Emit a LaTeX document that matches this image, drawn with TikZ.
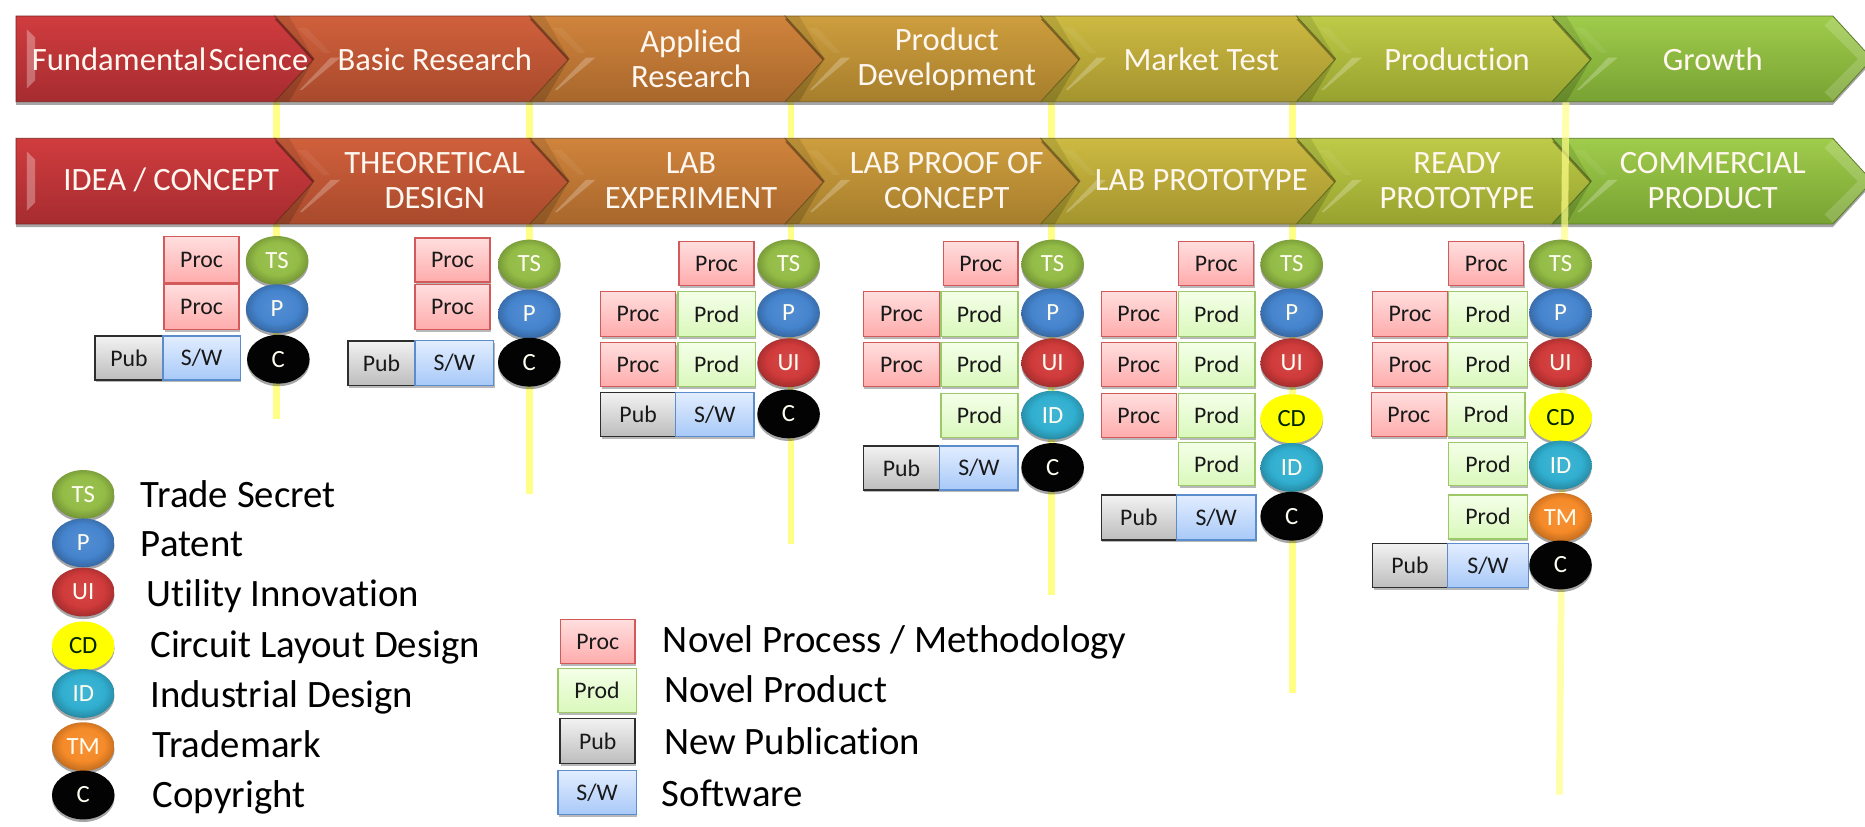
\documentclass[tikz,border=0pt]{standalone}
\usepackage{fontspec}
\setmainfont{Carlito}[Ligatures=CommonOff]
\usetikzlibrary{shapes.geometric,shadows}
\definecolor{cRedT}{HTML}{D03C3E}\definecolor{cRedB}{HTML}{A62C30}
\definecolor{cBrkT}{HTML}{D0603C}\definecolor{cBrkB}{HTML}{A84A2C}
\definecolor{cOrnT}{HTML}{D0843C}\definecolor{cOrnB}{HTML}{A8672C}
\definecolor{cAmbT}{HTML}{CE9E3E}\definecolor{cAmbB}{HTML}{A67E2C}
\definecolor{cOliT}{HTML}{CCBA42}\definecolor{cOliB}{HTML}{A4942E}
\definecolor{cLimT}{HTML}{BECB48}\definecolor{cLimB}{HTML}{96A22E}
\definecolor{cGrnT}{HTML}{A0CC4C}\definecolor{cGrnB}{HTML}{78A232}
\definecolor{cTS}{HTML}{93BC46}\definecolor{cP}{HTML}{4584CE}
\definecolor{cUI}{HTML}{D03A3A}\definecolor{cCD}{HTML}{FFFF00}
\definecolor{cID}{HTML}{31AFD0}\definecolor{cTM}{HTML}{F58A28}
\definecolor{cC}{HTML}{030303}\definecolor{cLine}{HTML}{FFFF88}
\definecolor{pT}{HTML}{FFDEDE}\definecolor{pB}{HTML}{FFACAC}\definecolor{pD}{HTML}{D25A5A}
\definecolor{dT}{HTML}{F4FFE8}\definecolor{dB}{HTML}{DAF8BC}\definecolor{dD}{HTML}{9CC868}
\definecolor{sT}{HTML}{E2EDFF}\definecolor{sB}{HTML}{A8C9F8}\definecolor{sD}{HTML}{5B8CCB}
\definecolor{uT}{HTML}{F2F2F2}\definecolor{uB}{HTML}{BDBDBD}\definecolor{uD}{HTML}{2E2E2E}
\newcommand\defball[1]{\pgfdeclareradialshading{ball#1}{\pgfpoint{0bp}{3bp}}{%
  color(0bp)=(#1!92!white); color(17bp)=(#1); color(25bp)=(#1!82!black); color(30bp)=(#1!55!black); color(50bp)=(#1!45!black)}}
\defball{cTS}\defball{cP}\defball{cUI}\defball{cID}\defball{cTM}
\pgfdeclareradialshading{ballyel}{\pgfpoint{0bp}{0bp}}{%
  color(0bp)=(cCD); color(26bp)=(cCD); color(30bp)=(cCD!80!black); color(50bp)=(cCD!80!black)}
\tikzset{
  x=0.5pt,y=-0.5pt,
  cellbase/.style={rectangle,inner sep=0pt,font=\fontsize{10}{11}\selectfont,text=black!90,line width=.6pt,
    drop shadow={shadow xshift=.4pt,shadow yshift=-1pt,opacity=.28,fill=black}},
  procbox/.style={cellbase,draw=pD,top color=pT,bottom color=pB},
  prodbox/.style={cellbase,draw=dD,top color=dT,bottom color=dB},
  pubbox/.style={cellbase,draw=uD,line width=.7pt,top color=uT,bottom color=uB},
  swbox/.style={cellbase,draw=sD,top color=sT,bottom color=sB},
  ballbase/.style={ellipse,inner sep=0pt,minimum width=26.3pt,minimum height=20.5pt,
    font=\fontsize{10.4}{11}\selectfont,text=white!94!yellow,
    drop shadow={shadow xshift=0pt,shadow yshift=-1.1pt,opacity=.35,fill=black}},
  vline/.style={draw=cLine,line width=2.9pt},
  chevtext/.style={font=\fontsize{13.7}{15}\selectfont,text=white!94!orange,align=center,inner sep=0pt},
  legtext/.style={anchor=west,font=\fontsize{16.3}{18}\selectfont,text=black,inner sep=0pt,text height=.7em,text depth=.2em},
}
% name, style, x1, y1, x2, y2, text
\newcommand\cellbox[7]{%
  \pgfmathsetmacro\cellCX{(#3+#5)/2}\pgfmathsetmacro\cellCY{(#4+#6)/2}%
  \pgfmathsetmacro\cellW{(#5-#3)*0.5}\pgfmathsetmacro\cellH{(#6-#4)*0.5}%
  \node[#2,minimum width=\cellW pt,minimum height=\cellH pt] (#1) at (\cellCX,\cellCY) {#7};}
% name, x, y, colour, text
\newcommand\ballnode[5]{%
  \node[ballbase,shading=ball#4] (#1) at (#2,#3) {#5};}
\newcommand\ballblack[4]{%
  \node[ballbase,fill=cC] (#1) at (#2,#3) {#4};}
\newcommand\ballyellow[4]{%
  \node[ballbase,shading=ballyel,text=black!85!green] (#1) at (#2,#3) {#4};}
% x0 (start shoulder), x1 (end shoulder), top y, colour top, colour bottom
\newcommand\chev[5]{%
  \pgfmathsetmacro\chT{#3}\pgfmathsetmacro\chB{#3+72}\pgfmathsetmacro\chM{#3+36}%
  \pgfmathsetmacro\chTip{#2+33}\pgfmathsetmacro\chN{#1+33}%
  \shade[top color=#4,bottom color=#5,draw=#5!75!black,line width=.35pt,
    drop shadow={shadow xshift=0pt,shadow yshift=-1.3pt,opacity=.35,fill=black}]
    (#1,\chT) -- (#2,\chT) -- (\chTip,\chM) -- (#2,\chB) -- (#1,\chB) -- (\chN,\chM) -- cycle;
  \fill[black,opacity=.1] (#1,\chT) -- (#1+12,\chT) -- (\chN,\chM) -- cycle;
  \fill[black,opacity=.15] (#1,\chB) -- (#1+12,\chB) -- (\chN,\chM) -- cycle;
  \fill[white,opacity=.24] (#1+21,#3+62) -- (#1+47,#3+35) -- (#1+55,#3+35) -- (#1+23,#3+62) -- cycle;
  \fill[white,opacity=.06] (#1+19,#3+10) -- (#1+41,#3+31) -- (#1+47,#3+31) -- (#1+27,#3+10) -- cycle;}
\newcommand\chevfirst[5]{%
  \pgfmathsetmacro\chT{#3}\pgfmathsetmacro\chB{#3+72}\pgfmathsetmacro\chM{#3+36}%
  \pgfmathsetmacro\chTip{#2+33}%
  \shade[top color=#4,bottom color=#5,draw=#5!75!black,line width=.35pt,
    drop shadow={shadow xshift=0pt,shadow yshift=-1.3pt,opacity=.35,fill=black}]
    (#1,\chT) -- (#2,\chT) -- (\chTip,\chM) -- (#2,\chB) -- (#1,\chB) -- cycle;
  \fill[white,opacity=.3] (#1+9,#3+11) -- (#1+16,#3+18) -- (#1+16,#3+54) -- (#1+9,#3+61) -- cycle;}
\newcommand\chevend[1]{%
  \fill[white,opacity=.16] (1541,#1+1) -- (1574,#1+36) -- (1541,#1+71) -- (1534,#1+64) -- (1562,#1+36) -- (1534,#1+8) -- cycle;}
\begin{document}
\begin{tikzpicture}
\useasboundingbox (0,0) rectangle (1568,695.3);
\fill[white] (0,0) rectangle (1568,695.3);
% connector ends
\coordinate (la1) at (232.5,86);  \coordinate (lb1) at (232.5,352);
\coordinate (la2) at (445,86);    \coordinate (lb2) at (445,415);
\coordinate (la3) at (665,86);    \coordinate (lb3) at (665,457);
\coordinate (la4) at (884,86);    \coordinate (lb4) at (884,500);
\coordinate (la5) at (1087,86);   \coordinate (lb5) at (1087,583);
\coordinate (la6) at (1316.5,86); \coordinate (lb6) at (1311,668);
\draw[vline] (la1) -- (lb1);
\draw[vline] (la2) -- (lb2);
\draw[vline] (la3) -- (lb3);
\draw[vline] (la4) -- (lb4);
\draw[vline] (la5) -- (lb5);
% chevrons, both rows
\foreach \ty in {13.5,116.3}{
  \chevfirst{13.5}{231}{\ty}{cRedT}{cRedB}{}
  \chev{231}{445.5}{\ty}{cBrkT}{cBrkB}
  \chev{445.5}{660}{\ty}{cOrnT}{cOrnB}
  \chev{660}{875}{\ty}{cAmbT}{cAmbB}
  \chev{875}{1090}{\ty}{cOliT}{cOliB}
  \chev{1090}{1305}{\ty}{cLimT}{cLimB}
  \chev{1305}{1541}{\ty}{cGrnT}{cGrnB}
  \chevend{\ty}
}
\draw[vline,opacity=.7] (la6) -- (lb6);
% chevron labels
\node[chevtext] (t1) at (143,49.5) {{\spaceskip=.07em\relax Fundamental Science}};
\node[chevtext] (t2) at (365.5,49.5) {Basic Research};
\node[chevtext] (t3) at (581,49.5) {Applied\\[-.02em]Research};
\node[chevtext] (t4) at (796,49.5) {Product\\[-.02em]Development};
\node[chevtext] (t5) at (1010,49.5) {Market Test};
\node[chevtext] (t6) at (1225,49.5) {Production};
\node[chevtext] (t7) at (1440,49.5) {Growth};
\node[chevtext] (s1) at (144,151.5) {IDEA / CONCEPT};
\node[chevtext] (s2) at (365.5,151.5) {THEORETICAL\\[-.02em]DESIGN};
\node[chevtext] (s3) at (581,151.5) {LAB\\[-.02em]EXPERIMENT};
\node[chevtext] (s4) at (796,151.5) {LAB PROOF OF\\[-.02em]CONCEPT};
\node[chevtext] (s5) at (1010,151.5) {LAB PROTOTYPE};
\node[chevtext] (s6) at (1225,151.5) {READY\\[-.02em]PROTOTYPE};
\node[chevtext] (s7) at (1440,151.5) {COMMERCIAL\\[-.02em]PRODUCT};
% column 1
\cellbox{a1}{procbox}{138}{199}{201}{238}{Proc}
\cellbox{a2}{procbox}{138}{239}{201}{277}{Proc}
\cellbox{a3}{pubbox}{80}{282.5}{137}{319.5}{Pub}
\cellbox{a4}{swbox}{137}{282.5}{202}{319.5}{S/W}
\ballnode{aT}{233}{219}{cTS}{TS}
\ballnode{aP}{233}{259.5}{cP}{P}
\ballblack{aC}{234}{302}{C}
% column 2
\cellbox{b1}{procbox}{349}{200}{412}{237}{Proc}
\cellbox{b2}{procbox}{349}{239}{412}{277}{Proc}
\cellbox{b3}{pubbox}{292.5}{286.5}{349}{324}{Pub}
\cellbox{b4}{swbox}{349}{286.5}{415}{324}{S/W}
\ballnode{bT}{445}{222}{cTS}{TS}
\ballnode{bP}{445}{264}{cP}{P}
\ballblack{bC}{445}{304.5}{C}
% column 3
\cellbox{c1}{procbox}{571}{203}{634}{240}{Proc}
\cellbox{c2}{procbox}{505}{245}{568}{283}{Proc}
\cellbox{c3}{prodbox}{570}{245}{635}{283}{Prod}
\cellbox{c4}{procbox}{505}{288}{568}{325}{Proc}
\cellbox{c5}{prodbox}{570}{288}{635}{325}{Prod}
\cellbox{c6}{pubbox}{505}{330}{568}{367}{Pub}
\cellbox{c7}{swbox}{568}{330}{634}{367}{S/W}
\ballnode{cT}{663}{222}{cTS}{TS}
\ballnode{cP2}{663}{263}{cP}{P}
\ballnode{cU}{663}{305}{cUI}{UI}
\ballblack{cC2}{663}{348}{C}
% column 4
\cellbox{d1}{procbox}{793}{203}{856}{240}{Proc}
\cellbox{d2}{procbox}{726}{245}{790}{283}{Proc}
\cellbox{d3}{prodbox}{791}{245}{856}{283}{Prod}
\cellbox{d4}{procbox}{726}{288}{790}{325}{Proc}
\cellbox{d5}{prodbox}{791}{288}{856}{325}{Prod}
\cellbox{d6}{prodbox}{791}{331}{856}{368}{Prod}
\cellbox{d7}{pubbox}{726}{375}{790}{412}{Pub}
\cellbox{d8}{swbox}{790}{375}{856}{412}{S/W}
\ballnode{dT}{885}{222}{cTS}{TS}
\ballnode{dP}{885}{263}{cP}{P}
\ballnode{dU}{885}{305}{cUI}{UI}
\ballnode{dI}{885}{349}{cID}{ID}
\ballblack{dC}{885}{393}{C}
% column 5
\cellbox{e1}{procbox}{991}{203}{1054}{240}{Proc}
\cellbox{e2}{procbox}{926}{245}{989}{283}{Proc}
\cellbox{e3}{prodbox}{991}{245}{1055}{283}{Prod}
\cellbox{e4}{procbox}{926}{288}{989}{325}{Proc}
\cellbox{e5}{prodbox}{991}{288}{1055}{325}{Prod}
\cellbox{e6}{procbox}{926}{331}{989}{368}{Proc}
\cellbox{e7}{prodbox}{991}{331}{1055}{368}{Prod}
\cellbox{e8}{prodbox}{991}{372}{1055}{408}{Prod}
\cellbox{e9}{pubbox}{926}{416}{989}{454}{Pub}
\cellbox{e10}{swbox}{989}{416}{1056}{454}{S/W}
\ballnode{eT}{1086}{222}{cTS}{TS}
\ballnode{eP}{1086}{263}{cP}{P}
\ballnode{eU}{1086}{305}{cUI}{UI}
\ballyellow{eD}{1086}{352}{CD}
\ballnode{eI}{1086}{393}{cID}{ID}
\ballblack{eC}{1086}{434}{C}
% column 6
\cellbox{f1}{procbox}{1218}{203}{1281}{240}{Proc}
\cellbox{f2}{procbox}{1154}{245}{1217}{283}{Proc}
\cellbox{f3}{prodbox}{1218}{245}{1284}{283}{Prod}
\cellbox{f4}{procbox}{1154}{288}{1217}{325}{Proc}
\cellbox{f5}{prodbox}{1218}{288}{1284}{325}{Prod}
\cellbox{f6}{procbox}{1153}{330}{1216}{367}{Proc}
\cellbox{f7}{prodbox}{1217}{330}{1282}{367}{Prod}
\cellbox{f8}{prodbox}{1218}{372}{1284}{408}{Prod}
\cellbox{f9}{prodbox}{1218}{416}{1284}{453}{Prod}
\cellbox{f10}{pubbox}{1154}{457}{1217}{494}{Pub}
\cellbox{f11}{swbox}{1217}{457}{1285}{494}{S/W}
\ballnode{fT}{1312}{222}{cTS}{TS}
\ballnode{fP}{1312}{263}{cP}{P}
\ballnode{fU}{1312}{305}{cUI}{UI}
\ballyellow{fD}{1312}{351}{CD}
\ballnode{fI}{1312}{391}{cID}{ID}
\ballnode{fM}{1312}{435}{cTM}{TM}
\ballblack{fC}{1312}{475}{C}
% legend, balls
\ballnode{gT}{70}{415.7}{cTS}{TS}
\ballnode{gP}{70}{456.4}{cP}{P}
\ballnode{gU}{70}{497.8}{cUI}{UI}
\ballyellow{gD}{70}{543}{CD}
\ballnode{gI}{70}{583}{cID}{ID}
\ballnode{gM}{70}{627.8}{cTM}{TM}
\ballblack{gC}{70}{668.4}{C}
\node[legtext] (lt1) at (118,422) {Trade Secret};
\node[legtext] (lt2) at (118,463) {Patent};
\node[legtext] (lt3) at (123,505) {Utility Innovation};
\node[legtext] (lt4) at (126,548) {Circuit Layout Design};
\node[legtext] (lt5) at (126,590) {Industrial Design};
\node[legtext] (lt6) at (128,632) {Trademark};
\node[legtext] (lt7) at (128,674) {Copyright};
% legend, boxes
\cellbox{h1}{procbox}{471}{521}{534}{558}{Proc}
\cellbox{h2}{prodbox}{469}{562}{535}{599}{Prod}
\cellbox{h3}{pubbox}{471}{604}{534}{642}{Pub}
\cellbox{h4}{swbox}{469}{648}{535}{685}{S/W}
\node[legtext] (lh1) at (557,544) {Novel Process / Methodology};
\node[legtext] (lh2) at (558,586) {Novel Product};
\node[legtext] (lh3) at (558,629) {New Publication};
\node[legtext] (lh4) at (556,673) {Software};
\end{tikzpicture}
\end{document}
